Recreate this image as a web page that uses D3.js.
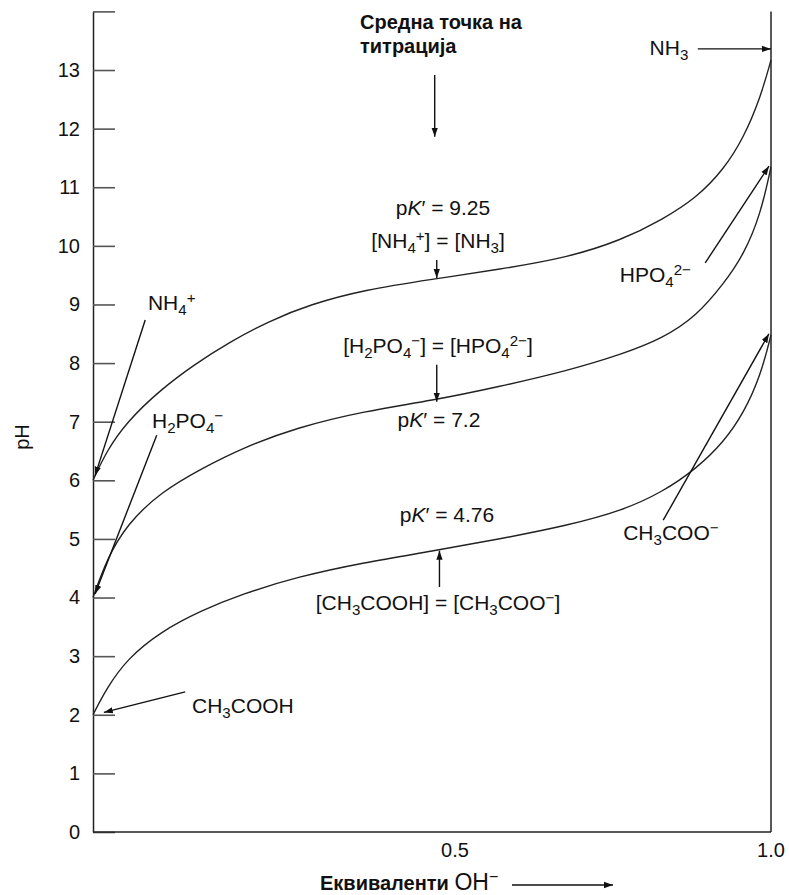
<!DOCTYPE html>
<html><head><meta charset="utf-8">
<script src="https://cdn.jsdelivr.net/npm/d3@7"></script>
<style>
html,body{margin:0;padding:0;background:#fff;}
text{font-family:"Liberation Sans",Arial,Helvetica,sans-serif;fill:#111;}
</style></head>
<body><svg id="c" width="789" height="895"></svg>
<script>
// ---- data (equivalents of OH-, pH) ----
const ammoniaX  = [0, 0.02, 0.05, 0.1, 0.15, 0.2, 0.26, 0.32, 0.4, 0.5, 0.6, 0.7, 0.78, 0.84, 0.89, 0.93, 0.96, 0.985, 1.0];
const ammoniaPH = [6.0, 6.5, 7.0, 7.55, 7.98, 8.35, 8.72, 9.0, 9.25, 9.43, 9.6, 9.8, 10.1, 10.45, 10.82, 11.3, 11.85, 12.55, 13.17];
const phosphX  = [0, 0.02, 0.05, 0.1, 0.16, 0.22, 0.3, 0.4, 0.5, 0.6, 0.7, 0.78, 0.84, 0.89, 0.93, 0.96, 0.985, 1.0];
const phosphPH = [4.0, 4.65, 5.25, 5.8, 6.2, 6.55, 6.9, 7.18, 7.36, 7.6, 7.87, 8.15, 8.42, 8.8, 9.35, 9.85, 10.55, 11.35];
const aceticX  = [0, 0.02, 0.05, 0.1, 0.16, 0.22, 0.3, 0.4, 0.5, 0.6, 0.7, 0.78, 0.84, 0.89, 0.93, 0.96, 0.985, 1.0];
const aceticPH = [2.0, 2.45, 2.95, 3.42, 3.78, 4.06, 4.35, 4.6, 4.79, 5.0, 5.23, 5.48, 5.8, 6.2, 6.65, 7.15, 7.8, 8.48];
const yTicks = [0,1,2,3,4,5,6,7,8,9,10,11,12,13,14];
const xTickValues = [0.5, 1.0];
const xTickLabels = ["0.5", "1.0"];

const svg = d3.select("#c");
const x = d3.scaleLinear().domain([0,1]).range([93,771]);
const y = d3.scaleLinear().domain([0,14]).range([832,11.4]);

// arrow marker
svg.append("defs").append("marker").attr("id","ah")
  .attr("viewBox","0 0 10 10").attr("refX",10).attr("refY",5)
  .attr("markerWidth",9).attr("markerHeight",9).attr("markerUnits","userSpaceOnUse")
  .attr("orient","auto")
  .append("path").attr("d","M0,1.5 L10,5 L0,8.5 Z").attr("fill","#111");

// y axis
const yAxis = d3.axisLeft(y).tickValues(yTicks).tickSizeInner(-22).tickSizeOuter(0).tickPadding(13)
  .tickFormat(d => d===14 ? "" : d);
const gy = svg.append("g").attr("transform",`translate(${x(0)},0)`).call(yAxis);
gy.select(".domain").attr("stroke","#222").attr("stroke-width",1.5);
gy.selectAll(".tick line").attr("stroke","#555").attr("stroke-width",1.6);
gy.selectAll(".tick text").attr("font-size",20).attr("fill","#111")
  .attr("font-family","'Liberation Sans',Arial,sans-serif");

// x axis line + right border
svg.append("line").attr("x1",x(0)).attr("x2",x(1)).attr("y1",y(0)).attr("y2",y(0)).attr("stroke","#222").attr("stroke-width",1.5);
svg.append("line").attr("x1",x(1)).attr("x2",x(1)).attr("y1",y(0)).attr("y2",y(14)).attr("stroke","#222").attr("stroke-width",1.5);

// x tick labels
const xLabelShift = [23, 0];
svg.selectAll(".xt").data(xTickValues).join("text")
  .attr("x",(d,i)=>x(d)+xLabelShift[i]).attr("y",y(0)+25)
  .attr("text-anchor","middle").attr("font-size",20).text((d,i)=>xTickLabels[i]);

// curves
const line = d3.line().x(d=>x(d[0])).y(d=>y(d[1])).curve(d3.curveBasis);
[[ammoniaX,ammoniaPH],[phosphX,phosphPH],[aceticX,aceticPH]].forEach(([xs,ys])=>{
  svg.append("path").attr("d",line(xs.map((v,i)=>[v,ys[i]])))
    .attr("fill","none").attr("stroke","#222").attr("stroke-width",1.4);
});

// rich text helper
function rich(px, py, parts, size, anchor, weight){
  const t = svg.append("text").attr("x",px).attr("y",py).attr("font-size",size)
    .attr("text-anchor",anchor||"start");
  if (weight) t.attr("font-weight",weight);
  parts.forEach(p=>{
    if (typeof p === "string") { t.append("tspan").text(p); return; }
    const s = t.append("tspan").text(p.t);
    if (p.sub) s.attr("font-size",size*0.72).attr("baseline-shift",-size*0.25);
    if (p.sup) s.attr("font-size",size*0.72).attr("baseline-shift",size*0.34);
    if (p.it) s.attr("font-style","italic");
  });
  return t;
}
function arrow(x1,y1,x2,y2){
  svg.append("line").attr("x1",x(x1)).attr("y1",y(y1)).attr("x2",x(x2)).attr("y2",y(y2))
    .attr("stroke","#111").attr("stroke-width",1.4).attr("marker-end","url(#ah)");
}
const FS = 21;

// species labels & arrows
rich(x(0.081), y(8.9), ["NH",{t:"4",sub:true},{t:"+",sup:true}], FS);
arrow(0.077, 8.735, 0.003, 6.08);
rich(x(0.087), y(6.89), ["H",{t:"2",sub:true},"PO",{t:"4",sub:true},{t:"−",sup:true}], FS);
arrow(0.094, 6.77, 0.003, 4.06);
rich(x(0.146), y(2.03), ["CH",{t:"3",sub:true},"COOH"], FS);
arrow(0.136, 2.39, 0.016, 2.04);
rich(x(0.878), y(13.26), ["NH",{t:"3",sub:true}], FS, "end");
arrow(0.892, 13.36, 1.0, 13.36);
rich(x(0.777), y(9.38), ["HPO",{t:"4",sub:true},{t:"2−",sup:true}], FS);
arrow(0.903, 9.71, 0.997, 11.36);
rich(x(0.782), y(4.98), ["CH",{t:"3",sub:true},"COO",{t:"−",sup:true}], FS);
arrow(0.841, 5.32, 0.997, 8.5);

// midpoint annotations
rich(360, 29, ["Средна точка на"], 20, "start", "bold");
rich(360, 53, ["титрација"], 20, "start", "bold");
arrow(0.504, 12.915, 0.504, 11.86);

rich(443, 215, ["p",{t:"K",it:true},"′ = 9.25"], FS, "middle");
rich(438, 248, ["[NH",{t:"4",sub:true},{t:"+",sup:true},"] = [NH",{t:"3",sub:true},"]"], FS, "middle");
arrow(0.507, 9.76, 0.507, 9.45);

rich(438, 353, ["[H",{t:"2",sub:true},"PO",{t:"4",sub:true},{t:"−",sup:true},"] = [HPO",{t:"4",sub:true},{t:"2−",sup:true},"]"], FS, "middle");
arrow(0.507, 7.97, 0.507, 7.34);
rich(439, 427, ["p",{t:"K",it:true},"′ = 7.2"], FS, "middle");

rich(447, 522, ["p",{t:"K",it:true},"′ = 4.76"], FS, "middle");
arrow(0.511, 4.18, 0.511, 4.8);
rich(438, 610, ["[CH",{t:"3",sub:true},"COOH] = [CH",{t:"3",sub:true},"COO",{t:"−",sup:true},"]"], FS, "middle");

// axis titles
svg.append("text").attr("transform","translate(29,437) rotate(-90)").attr("text-anchor","middle")
  .attr("font-size",20).text("pH");
const xt = svg.append("text").attr("x",320).attr("y",890).attr("font-size",20);
xt.append("tspan").attr("font-weight","bold").text("Еквиваленти ");
xt.append("tspan").attr("font-size",23).text("OH");
xt.append("tspan").attr("font-size",16).attr("baseline-shift",8).text("−");
svg.append("line").attr("x1",512).attr("x2",613).attr("y1",885).attr("y2",885)
  .attr("stroke","#111").attr("stroke-width",1.3).attr("marker-end","url(#ah)");
</script></body></html>
